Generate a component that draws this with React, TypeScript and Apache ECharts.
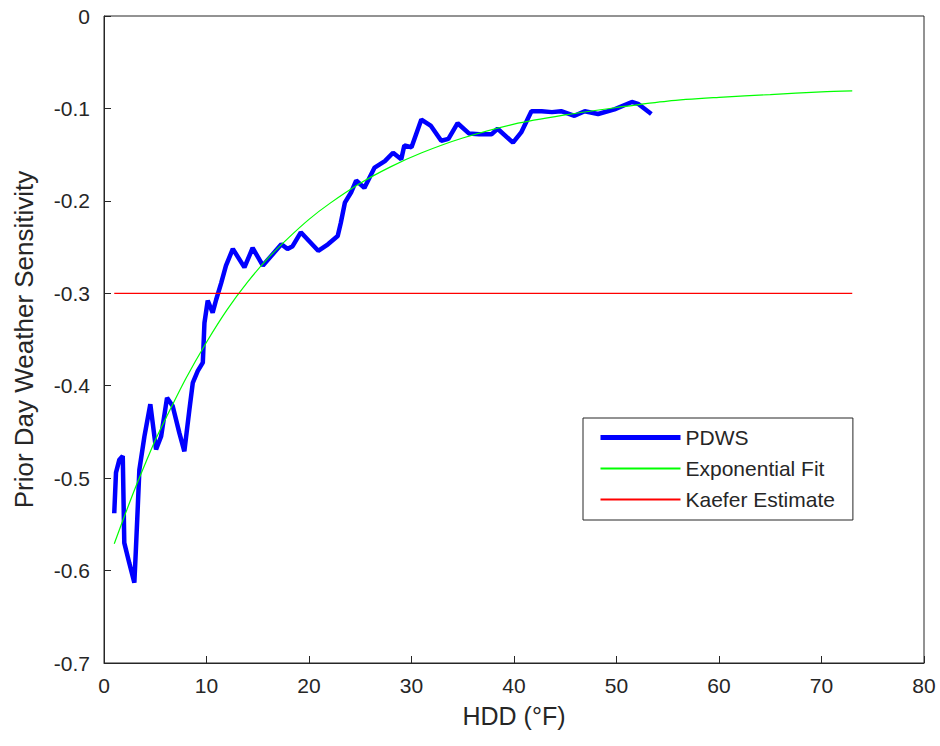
import React, { useEffect, useRef } from "react";
import * as echarts from "echarts";

const pdwsX = [1.0, 1.17, 1.5, 1.83, 1.98, 2.47, 2.96, 3.1, 3.3, 3.45, 3.94, 4.52, 5.08, 5.57, 6.15, 6.7, 7.35, 7.84, 8.33, 8.66, 9.15, 9.64, 9.8, 10.12, 10.6, 10.94, 11.43, 11.9, 12.57, 13.7, 14.5, 15.5, 17.3, 17.9, 18.4, 19.2, 20.9, 21.85, 22.8, 23.1, 23.5, 24.1, 24.6, 25.4, 26.4, 27.4, 28.2, 29.0, 29.3, 30.0, 30.96, 31.9, 32.9, 33.6, 34.5, 35.6, 36.6, 37.8, 38.4, 39.9, 40.7, 41.7, 42.7, 43.7, 44.6, 45.9, 46.9, 48.2, 49.8, 51.5, 52.1, 53.4];
const pdwsY = [-0.538, -0.494, -0.48, -0.476, -0.57, -0.592, -0.613, -0.58, -0.53, -0.491, -0.455, -0.42, -0.469, -0.455, -0.413, -0.422, -0.451, -0.471, -0.426, -0.397, -0.384, -0.375, -0.332, -0.308, -0.321, -0.307, -0.289, -0.27, -0.252, -0.272, -0.251, -0.27, -0.247, -0.252, -0.249, -0.234, -0.254, -0.247, -0.238, -0.224, -0.202, -0.191, -0.178, -0.186, -0.164, -0.157, -0.148, -0.155, -0.14, -0.142, -0.112, -0.119, -0.135, -0.133, -0.116, -0.127, -0.128, -0.128, -0.122, -0.137, -0.126, -0.103, -0.103, -0.104, -0.103, -0.108, -0.103, -0.106, -0.101, -0.093, -0.095, -0.106];

const fitX = [1, 2, 3, 4, 5, 6, 8, 10, 12, 14, 16, 18, 20, 22, 25, 28, 31, 35, 40, 45, 50, 55, 60, 65, 70, 73];
const fitY = [-0.571, -0.541, -0.512, -0.485, -0.459, -0.436, -0.392, -0.353, -0.318, -0.288, -0.262, -0.24, -0.22, -0.203, -0.181, -0.163, -0.148, -0.132, -0.117, -0.107, -0.099, -0.092, -0.088, -0.085, -0.082, -0.081];

const kaeferX = [1, 73];
const kaeferY = [-0.3, -0.3];

const seriesNames = ["PDWS", "Exponential Fit", "Kaefer Estimate"];
const xTitle = "HDD (°F)";
const yTitle = "Prior Day Weather Sensitivity";

const zip = (xs: number[], ys: number[]) => xs.map((x, i) => [x, ys[i]]);

const FONT = "'Liberation Sans', Arial, Helvetica, sans-serif";
const INK = "#262626";

export default function App() {
  const ref = useRef<HTMLDivElement>(null);
  useEffect(() => {
    if (!ref.current) return;
    const chart = echarts.init(ref.current, undefined, { renderer: "svg" });
    chart.setOption({
      animation: false,
      backgroundColor: "#ffffff",
      textStyle: { fontFamily: FONT, color: INK },
      grid: {
        left: 104,
        top: 16,
        right: 16,
        bottom: 83,
        show: true,
        borderColor: INK,
        borderWidth: 1,
        backgroundColor: "transparent",
      },
      legend: {
        orient: "vertical",
        left: 583,
        top: 418,
        data: [
          { name: seriesNames[0], lineStyle: { width: 5 } },
          { name: seriesNames[1] },
          { name: seriesNames[2] },
        ],
        itemWidth: 80,
        itemHeight: 14,
        itemGap: 10,
        padding: [9, 18, 10, 15],
        borderColor: INK,
        borderWidth: 1,
        backgroundColor: "#ffffff",
        itemStyle: { opacity: 0 },
        textStyle: { fontFamily: FONT, fontSize: 21, lineHeight: 21, color: INK },
      },
      xAxis: {
        type: "value",
        min: 0,
        max: 80,
        interval: 10,
        name: xTitle,
        nameLocation: "middle",
        nameGap: 40,
        nameTextStyle: { fontFamily: FONT, fontSize: 25, color: INK },
        axisLine: { show: true, onZero: false, lineStyle: { color: INK, width: 1 } },
        axisTick: { show: true, inside: true, length: 7, lineStyle: { color: INK } },
        axisLabel: { fontFamily: FONT, fontSize: 21, color: INK, margin: 12 },
        splitLine: { show: false },
      },
      yAxis: {
        type: "value",
        min: -0.7,
        max: 0,
        interval: 0.1,
        name: yTitle,
        nameLocation: "middle",
        nameGap: 67,
        nameTextStyle: { fontFamily: FONT, fontSize: 26, color: INK },
        axisLine: { show: true, onZero: false, lineStyle: { color: INK, width: 1 } },
        axisTick: { show: true, inside: true, length: 7, lineStyle: { color: INK } },
        axisLabel: { fontFamily: FONT, fontSize: 21, color: INK, margin: 14 },
        splitLine: { show: false },
      },
      series: [
        {
          name: seriesNames[0],
          type: "line",
          data: zip(pdwsX, pdwsY),
          symbol: "none",
          lineStyle: { color: "#0000ff", width: 4.5 },
          itemStyle: { color: "#0000ff" },
        },
        {
          name: seriesNames[1],
          type: "line",
          data: zip(fitX, fitY),
          symbol: "none",
          smooth: 0.3,
          lineStyle: { color: "#00ff00", width: 1.2 },
          itemStyle: { color: "#00ff00" },
        },
        {
          name: seriesNames[2],
          type: "line",
          data: zip(kaeferX, kaeferY),
          symbol: "none",
          lineStyle: { color: "#ff0000", width: 1.2 },
          itemStyle: { color: "#ff0000" },
        },
      ],
    });
    return () => chart.dispose();
  }, []);
  return <div ref={ref} style={{ width: 940, height: 746, position: "absolute", left: 0, top: 0 }} />;
}
